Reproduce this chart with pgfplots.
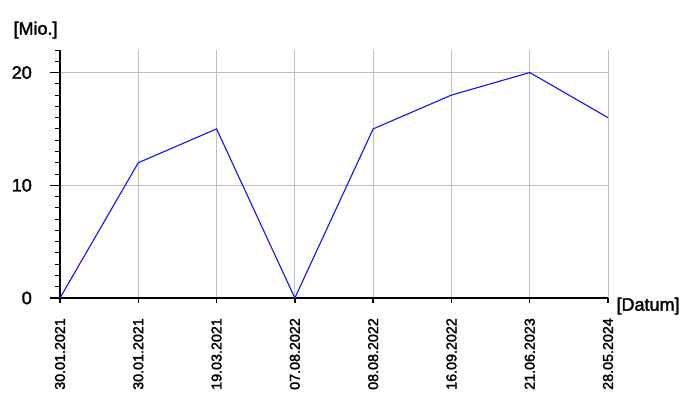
\documentclass[border=0pt]{standalone}
\usepackage{pgfplots}
\pgfplotsset{compat=1.18}
\usepackage{fontspec}
\setmainfont{Liberation Sans}[BoldFont=Liberation Sans, BoldFeatures={FakeBold=2.0}]
\definecolor{gridgray}{RGB}{192,192,192}
\definecolor{lineblue}{RGB}{16,16,255}
\begin{document}
\begin{tikzpicture}[x=1pt,y=1pt]
\path[use as bounding box] (0,0) rectangle (700,400);
\begin{axis}[
  at={(60pt,102pt)}, anchor=south west,
  scale only axis, width=548pt, height=248pt,
  xmin=0, xmax=7, ymin=0, ymax=22,
  axis x line*=bottom, axis y line*=left,
  axis line style={-, line width=1.6pt, black},
  xtick={0,...,7},
  xticklabels={30.01.2021,30.01.2021,19.03.2021,07.08.2022,08.08.2022,16.09.2022,21.06.2023,28.05.2024},
  ytick={0,10,20},
  minor ytick={1,...,22},
  tick align=outside,
  major tick length=10pt, minor tick length=5pt,
  tick style={black, line width=1.3pt},
  minor tick style={black, line width=1pt},
  xtick style={/pgfplots/major tick length=5pt},
  grid=major,
  major grid style={gridgray, line width=1pt},
  /pgf/number format/assume math mode=true,
  yticklabel style={font=\fontsize{18}{21}\bfseries, anchor=east, inner sep=0pt, xshift=-18pt},
  xticklabel style={font=\fontsize{14.3}{17}\bfseries, rotate=90, anchor=east, inner sep=0pt, xshift=-10pt},
  xlabel={[Datum]}, ylabel={[Mio.]},
  every axis x label/.style={at={(rel axis cs:1,0)}, anchor=west, xshift=5pt, yshift=-8pt, font=\fontsize{18}{21}\bfseries},
  every axis y label/.style={at={(rel axis cs:0,1)}, anchor=west, xshift=-50pt, yshift=20pt, font=\fontsize{18}{21}\bfseries},
  clip=false,
]
\addplot[lineblue, line width=1.1pt] coordinates {
  (0,0) (1,12) (2,15) (3,0) (4,15) (5,18) (6,20) (7,16)
};
\end{axis}
\end{tikzpicture}
\end{document}
